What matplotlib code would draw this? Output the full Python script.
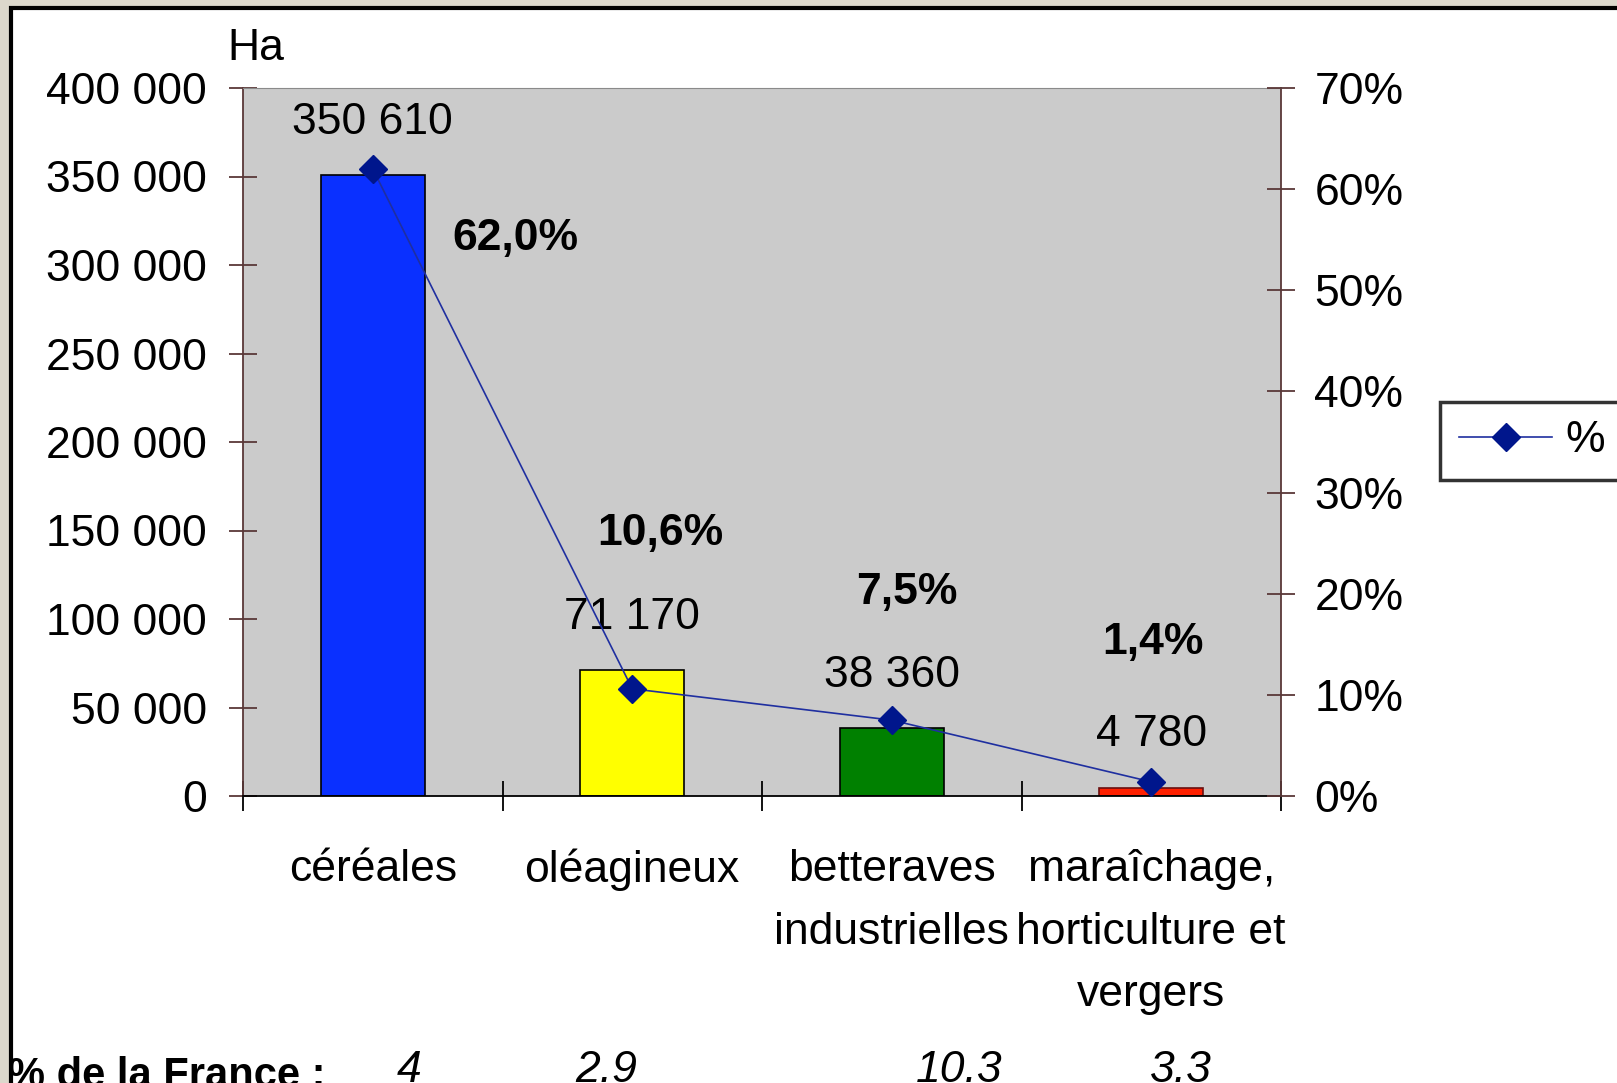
import matplotlib
matplotlib.use("Agg")
import matplotlib.pyplot as plt
from matplotlib.patches import Rectangle
from matplotlib.ticker import FuncFormatter, FixedLocator
import numpy as np

plt.rcParams["font.family"] = ["Liberation Sans", "DejaVu Sans"]

categories = ["céréales", "oléagineux", "betteraves\nindustrielles",
              "maraîchage,\nhorticulture et\nvergers"]
surfaces_ha = [350610, 71170, 38360, 4780]
share_pct = [62.0, 10.6, 7.5, 1.4]
france_pct = ["4", "2.9", "10.3", "3.3"]
bar_colors = ["#0a30ff", "#ffff00", "#008000", "#ff2000"]
bar_edges = ["#000000", "#000000", "#000000", "#6a1010"]

FS = 32
SPINE = "#5a3838"

fig = plt.figure(figsize=(16.17, 10.83), dpi=100)
fig.patch.set_facecolor("#dcd8cc")
# white panel with the black frame
fig.patches.append(Rectangle((11 / 1617, -0.01), 1.1, 1 - 8 / 1083 + 0.01,
                             transform=fig.transFigure, facecolor="white",
                             edgecolor="black", linewidth=3, zorder=-10))

ax = fig.add_axes([243 / 1617, 1 - 796 / 1083, 1038 / 1617, 708 / 1083])
ax.set_facecolor("#cbcbcb")
x = np.arange(len(categories))
ax.bar(x, surfaces_ha, width=0.4, color=bar_colors, edgecolor=bar_edges, linewidth=1.2, zorder=2)
ax.set_xlim(-0.5, len(categories) - 0.5)
ax.set_ylim(0, 400000)
ax.set_yticks(np.arange(0, 400001, 50000))
ax.yaxis.set_major_formatter(FuncFormatter(lambda v, p: f"{int(v):,}".replace(",", " ")))
ax.xaxis.set_major_locator(FixedLocator(np.arange(-0.5, len(categories), 1.0)))
ax.xaxis.set_major_formatter(FuncFormatter(lambda v, p: ""))
ax.xaxis.set_minor_locator(FixedLocator(x))
ax.set_xticklabels(categories, minor=True, fontsize=FS, linespacing=1.68)
ax.tick_params(axis="x", which="major", direction="inout", length=22, width=1.3, color="black")
ax.tick_params(axis="x", which="minor", length=0, pad=38)
ax.tick_params(axis="y", direction="inout", length=20, width=1.3, color=SPINE,
               labelsize=FS, pad=16)
for side in ("left", "right"):
    ax.spines[side].set_color(SPINE)
    ax.spines[side].set_linewidth(1.3)
ax.spines["top"].set_color("#8a8a8a")
ax.spines["bottom"].set_color("black")
ax.spines["bottom"].set_linewidth(1.3)

for xi, v in zip(x, surfaces_ha):
    ax.annotate(f"{v:,}".replace(",", " "), (xi, v), xytext=(0, 38), textcoords="offset points",
                ha="center", va="center", fontsize=FS, zorder=5)

ax2 = ax.twinx()
ax2.set_ylim(0, 70)
ax2.set_yticks(np.arange(0, 71, 10))
ax2.yaxis.set_major_formatter(FuncFormatter(lambda v, p: f"{int(v)}%"))
ax2.tick_params(axis="y", direction="inout", length=20, width=1.3, color=SPINE,
                labelsize=FS, pad=14)
for s in ax2.spines.values():
    s.set_visible(False)
ax2.plot(x, share_pct, color="#1f2fa0", linewidth=1.2, marker="D", markersize=14,
         markerfacecolor="#00168c", markeredgecolor="#00168c", label="%", zorder=4)

pct_offsets = [(103, -50), (20, 112), (11, 92), (1.5, 100)]
for xi, p, off in zip(x, share_pct, pct_offsets):
    ax2.annotate(f"{p:.1f}%".replace(".", ","), (xi, p), xytext=off, textcoords="offset points",
                 ha="center", va="center", fontsize=FS, fontweight="bold")

leg = ax2.legend(loc="center", bbox_to_anchor=(1532 / 1617, 1 - 441 / 1083),
                 bbox_transform=fig.transFigure, fontsize=FS, frameon=True, fancybox=False,
                 handlelength=2.1, handletextpad=0.3, borderpad=0.42, borderaxespad=0)
leg.get_frame().set_edgecolor("black")
leg.get_frame().set_linewidth(2.5)

fig.text(227 / 1617, 1 - 48 / 1083, "Ha", fontsize=FS, ha="left", va="center")

fig.text(8 / 1617, -4 / 1083, "% de la France :", fontsize=FS - 2, fontweight="bold",
         ha="left", va="baseline")
for xp, s in zip([409, 606, 959, 1181], france_pct):
    fig.text(xp / 1617, 1 / 1083, s, fontsize=FS, fontstyle="italic", ha="center", va="baseline")

fig.savefig("out.png", dpi=100)
